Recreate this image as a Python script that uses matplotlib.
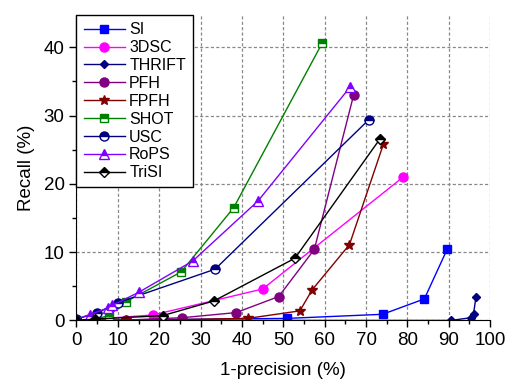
import numpy as np
import matplotlib
matplotlib.use('Agg')
import matplotlib.pyplot as plt
from matplotlib.ticker import MultipleLocator

plt.rcParams['font.family'] = ['Liberation Sans', 'DejaVu Sans']

# ---- data: (1-precision %, recall %) ----
si_x = [0, 51.0, 74.0, 84.1, 89.6]
si_y = [0, 0.3, 0.9, 3.15, 10.4]

dsc_x = [0, 18.5, 45.0, 79.0]
dsc_y = [0, 0.8, 4.6, 21.0]

thrift_x = [0, 4.5, 90.5, 95.4, 96.0, 96.6]
thrift_y = [0, 0, 0, 0.4, 1.0, 3.5]

pfh_x = [0, 12.0, 25.6, 38.6, 48.9, 57.5, 67.0]
pfh_y = [0, 0.05, 0.4, 1.15, 3.5, 10.4, 33.0]

fpfh_x = [0, 12.0, 41.4, 54.0, 57.0, 66.0, 74.2]
fpfh_y = [0, 0, 0.3, 1.4, 4.5, 11.1, 25.8]

shot_x = [0, 4.0, 7.8, 12.0, 25.3, 38.0, 59.4]
shot_y = [0, 0.1, 0.7, 2.75, 7.1, 16.5, 40.6]

usc_x = [0, 5.0, 10.0, 33.5, 70.7]
usc_y = [0.2, 1.1, 2.6, 7.5, 29.4]

rops_x = [0, 3.2, 7.5, 8.6, 15.0, 28.1, 43.9, 66.2]
rops_y = [0.2, 0.85, 1.8, 2.2, 4.1, 8.7, 17.5, 34.2]

trisi_x = [0, 4.5, 20.8, 33.2, 52.8, 73.4]
trisi_y = [0, 0.2, 0.7, 2.85, 9.1, 26.6]

fig = plt.figure(figsize=(5.1, 3.87), dpi=100)
ax = fig.add_axes([0.150, 0.172, 0.811, 0.789])

ms = 5.5
lw = 1.0
ax.plot(si_x, si_y, color='#0000FF', marker='s', ms=ms, lw=lw, label='SI')
ax.plot(dsc_x, dsc_y, color='#FF00FF', marker='o', ms=ms + 1, lw=lw, label='3DSC')
ax.plot(thrift_x, thrift_y, color='#000080', marker='D', ms=ms - 1, lw=lw, label='THRIFT')
ax.plot(pfh_x, pfh_y, color='#800080', marker='o', ms=ms + 1, lw=lw, label='PFH')
ax.plot(fpfh_x, fpfh_y, color='#800000', marker='*', ms=ms + 2, lw=lw, label='FPFH')
ax.plot(shot_x, shot_y, color='#008000', marker='s', ms=ms, lw=lw, fillstyle='top',
        markerfacecoloralt='white', label='SHOT')
ax.plot(usc_x, usc_y, color='#000080', marker='o', ms=ms + 1, lw=lw, fillstyle='top',
        markerfacecoloralt='white', label='USC')
ax.plot(rops_x, rops_y, color='#8000FF', marker='^', ms=ms + 1, lw=lw, fillstyle='top',
        markerfacecoloralt='white', label='RoPS')
ax.plot(trisi_x, trisi_y, color='black', marker='D', ms=ms, lw=lw, fillstyle='top',
        markerfacecoloralt='white', label='TriSI')

ax.set_xlim(0, 100)
ax.set_ylim(0, 44.7)
ax.xaxis.set_major_locator(MultipleLocator(10))
ax.xaxis.set_minor_locator(MultipleLocator(5))
ax.yaxis.set_major_locator(MultipleLocator(10))
ax.yaxis.set_minor_locator(MultipleLocator(5))

ax.spines['top'].set_visible(False)
ax.spines['right'].set_visible(False)
ax.tick_params(which='major', direction='out', length=5, width=1, labelsize=13.5)
ax.tick_params(which='minor', direction='out', length=3, width=1)

ax.grid(which='major', color='#888888', linestyle=(0, (2.5, 1.8)), linewidth=0.9)
ax.set_axisbelow(True)
for g in (ax.xaxis.get_gridlines()[0], ax.xaxis.get_gridlines()[-1],
          ax.yaxis.get_gridlines()[0]):
    g.set_visible(False)

ax.set_xlabel('1-precision (%)', fontsize=13.5, labelpad=9)
ax.set_ylabel('Recall (%)', fontsize=13.5, labelpad=6)

leg = ax.legend(loc='upper left', borderaxespad=0, fontsize=11.5, fancybox=False,
                framealpha=1, edgecolor='black', handlelength=2.6, labelspacing=0.18,
                handletextpad=0.25, borderpad=0.45)
leg.get_frame().set_linewidth(1)

fig.savefig('out.png', dpi=100)
